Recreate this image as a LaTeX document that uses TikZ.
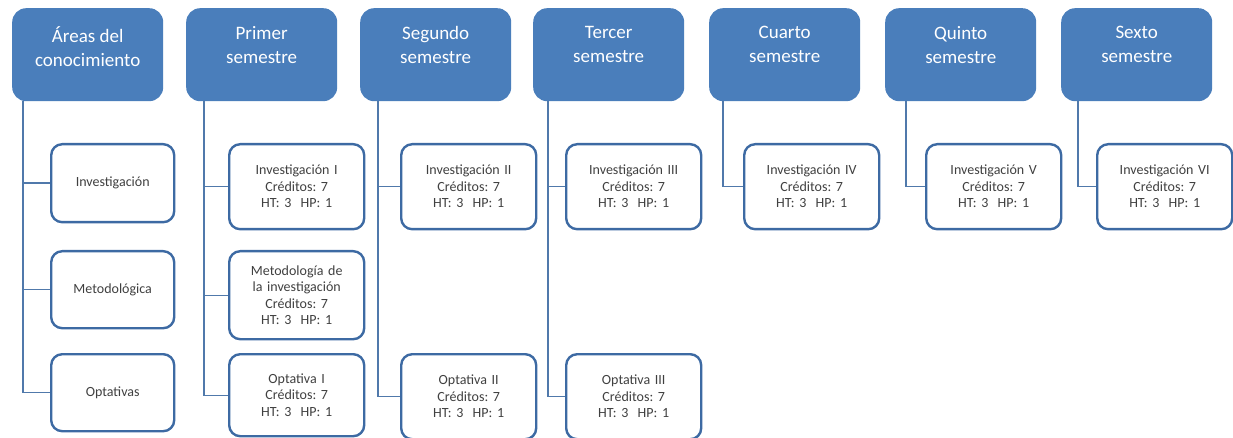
\documentclass[tikz,border=0pt]{standalone}
\usepackage{fontspec}
\setmainfont{Carlito}
\usepackage{xcolor}
\definecolor{hdblue}{HTML}{4A7EBB}
\definecolor{bxblue}{HTML}{3D6AA3}
\definecolor{lnblue}{HTML}{5079AB}
\definecolor{txgray}{HTML}{404040}
\usepackage{tikz}
\frenchspacing
\newcommand{\headtext}[1]{\parbox[c][93pt][t]{146pt}{\centering\vspace*{18pt}#1}}

\begin{document}
\begin{tikzpicture}[x=1pt, y=-1pt,
    head/.style={fill=hdblue, rounded corners=14pt, inner sep=0pt,
      anchor=north west, minimum width=151pt, minimum height=93pt,
      text=white, font=\fontsize{19}{24}\selectfont},
    course/.style={draw=bxblue, line width=2.4pt, fill=white,
      rounded corners=11pt, anchor=north west, inner sep=0pt,
      minimum width=135pt, minimum height=85pt, text width=130pt,
      align=center, text=txgray, font=\fontsize{14}{16.5}\selectfont},
    area/.style={course, minimum width=123pt, text width=118pt,
      minimum height=77pt},
    link/.style={draw=lnblue, line width=1.4pt}]
    \useasboundingbox (0,0) rectangle (1233,438);
    % cabeceras
    \node[head] (areas) at (12,8) {\headtext{Áreas del\\conocimiento}};
    \node[head] (sem1) at (186,8) {\headtext{Primer\\semestre}};
    \node[head] (sem2) at (360,8) {\headtext{Segundo\\semestre}};
    \node[head] (sem3) at (533,8) {\headtext{Tercer\\semestre}};
    \node[head] (sem4) at (709,8) {\headtext{Cuarto\\semestre}};
    \node[head] (sem5) at (885,8) {\headtext{Quinto\\semestre}};
    \node[head] (sem6) at (1061,8) {\headtext{Sexto\\semestre}};
    % areas
    \node[area, minimum height=78pt] (ainv) at (50,143) {Investigación};
    \node[area] (amet) at (50,250) {Metodológica};
    \node[area] (aopt) at (50,353) {Optativas};
    % materias
    \node[course] (inv1) at (228,143) {Investigación I\\Créditos: 7\\HT: 3~~HP: 1};
    \node[course, minimum height=88pt] (met1) at (228,250)
      {Metodología de\\la investigación\\Créditos: 7\\HT: 3~~HP: 1};
    \node[course, minimum height=82pt] (opt1) at (228,353) {Optativa I\\Créditos: 7\\HT: 3~~HP: 1};
    \node[course] (inv2) at (400,143) {Investigación II\\Créditos: 7\\HT: 3~~HP: 1};
    \node[course] (opt2) at (400,353) {Optativa II\\Créditos: 7\\HT: 3~~HP: 1};
    \node[course] (inv3) at (565,143) {Investigación III\\Créditos: 7\\HT: 3~~HP: 1};
    \node[course] (opt3) at (565,353) {Optativa III\\Créditos: 7\\HT: 3~~HP: 1};
    \node[course] (inv4) at (743,143) {Investigación IV\\Créditos: 7\\HT: 3~~HP: 1};
    \node[course] (inv5) at (925,143) {Investigación V\\Créditos: 7\\HT: 3~~HP: 1};
    \node[course] (inv6) at (1096,143) {Investigación VI\\Créditos: 7\\HT: 3~~HP: 1};
    % lineas
    \coordinate (l0) at (23,101);
    \coordinate (l1) at (204,101);
    \coordinate (l2) at (378,101);
    \coordinate (l3) at (548,101);
    \coordinate (l4) at (723,101);
    \coordinate (l5) at (906,101);
    \coordinate (l6) at (1078,101);
    \draw[link] (l0) |- (ainv.west);
    \draw[link] (l0) |- (amet.west);
    \draw[link] (l0) |- (aopt.west);
    \draw[link] (l1) |- (inv1.west);
    \draw[link] (l1) |- (met1.west);
    \draw[link] (l1) |- (opt1.west);
    \draw[link] (l2) |- (inv2.west);
    \draw[link] (l2) |- (opt2.west);
    \draw[link] (l3) |- (inv3.west);
    \draw[link] (l3) |- (opt3.west);
    \draw[link] (l4) |- (inv4.west);
    \draw[link] (l5) |- (inv5.west);
    \draw[link] (l6) |- (inv6.west);
\end{tikzpicture}
\end{document}
